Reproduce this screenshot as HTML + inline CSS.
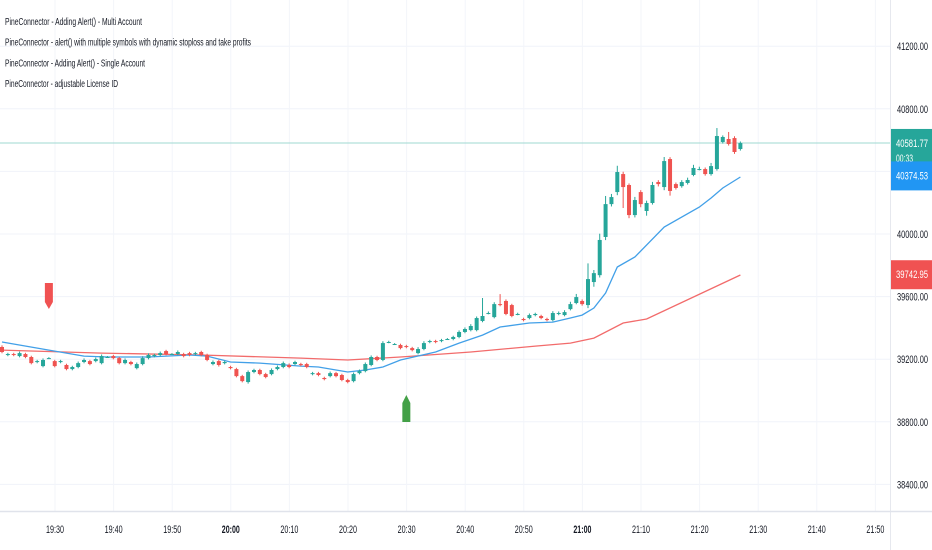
<!DOCTYPE html>
<html><head><meta charset="utf-8"><style>
html,body{margin:0;padding:0;background:#fff;}
svg{display:block;font-family:"Liberation Sans",sans-serif;}
</style></head><body>
<svg id="chart" width="932" height="550" viewBox="0 0 932 550" xmlns="http://www.w3.org/2000/svg">
<g id="grid"></g>
<g id="mas"></g>
<g id="candles"></g>
<g id="legend"></g>
<g id="axes"></g>
</svg>
<script>
const yTicks=[41200,40800,40400,40000,39600,39200,38800,38400];
const hiddenTickLabels=[40400];
const timeLabels=["19:30","19:40","19:50","20:00","20:10","20:20","20:30","20:40","20:50","21:00","21:10","21:20","21:30","21:40","21:50"];
const legendItems=["PineConnector - Adding Alert() - Multi Account","PineConnector - alert() with multiple symbols with dynamic stoploss and take profits","PineConnector - Adding Alert() - Single Account","PineConnector - adjustable License ID"];
const opens=[39278,39227,39233,39220,39233,39214,39182,39156,39207,39188,39182,39163,39137,39150,39182,39188,39188,39175,39214,39220,39207,39175,39182,39143,39169,39207,39220,39227,39252,39233,39233,39233,39239,39233,39246,39227,39169,39188,39175,39150,39137,39092,39054,39118,39131,39105,39105,39137,39150,39163,39169,39169,39169,39105,39111,39080,39092,39111,39099,39067,39060,39111,39124,39163,39214,39195,39310,39297,39291,39284,39271,39239,39265,39310,39316,39316,39329,39329,39342,39374,39386,39386,39444,39495,39469,39552,39572,39546,39489,39457,39463,39482,39476,39457,39450,39489,39482,39520,39559,39572,39546,39693,39737,39981,40191,40268,40383,40313,40121,40268,40147,40198,40332,40300,40479,40319,40306,40326,40377,40415,40415,40383,40415,40588,40607,40613,40543];
const closes=[39246,39233,39227,39239,39214,39175,39188,39195,39207,39156,39188,39137,39150,39175,39195,39169,39201,39220,39214,39207,39175,39195,39169,39169,39207,39227,39227,39239,39233,39233,39246,39220,39227,39239,39227,39195,39182,39163,39182,39143,39092,39060,39118,39131,39105,39086,39131,39150,39175,39150,39182,39163,39150,39111,39099,39073,39111,39092,39067,39054,39105,39124,39169,39214,39195,39303,39310,39297,39271,39278,39258,39265,39303,39316,39310,39322,39329,39342,39374,39393,39412,39463,39476,39495,39552,39546,39489,39476,39489,39450,39482,39489,39463,39450,39495,39495,39501,39552,39597,39552,39712,39750,39962,40191,40236,40396,40300,40121,40217,40191,40198,40313,40319,40466,40275,40294,40332,40345,40422,40415,40383,40434,40626,40620,40575,40524,40581];
const wickHi=[10,8,8,10,8,8,8,10,6,8,8,8,8,10,10,8,10,10,6,8,8,10,8,10,12,10,8,10,8,6,10,8,8,8,8,8,10,8,8,8,8,8,10,8,8,8,10,10,10,10,8,8,8,8,8,8,10,8,8,8,10,10,10,10,8,12,8,6,8,8,8,12,12,8,8,8,6,8,10,10,12,10,115,10,12,64,10,8,8,8,10,8,8,8,12,10,12,15,20,10,100,20,40,52,20,40,15,10,20,12,15,20,12,26,12,10,12,15,20,15,10,20,51,10,45,12,10];
const wickLo=[8,8,8,8,8,8,8,8,6,8,8,8,8,8,8,8,8,8,6,8,8,8,8,8,8,8,8,8,8,6,8,8,8,8,8,8,8,10,8,8,8,8,10,8,8,8,8,8,8,8,8,8,8,8,8,8,8,8,8,8,8,8,8,8,8,8,8,6,8,8,8,8,8,8,8,8,6,8,8,8,8,8,8,8,8,8,8,8,8,8,8,8,8,8,8,8,8,8,8,10,20,30,15,20,15,20,134,20,15,20,30,10,15,20,30,10,10,10,8,8,10,10,10,10,10,12,10];
const blueIdx=[0,8,14,18,25,32,35,39,44,51,54,59,62,65,68,74,78,82,85,90,94,97,99,101,103,105,108,113,119,121,123,126];
const blueVal=[39310,39258,39220,39214,39214,39227,39220,39182,39175,39156,39150,39118,39131,39150,39195,39246,39303,39354,39406,39431,39437,39463,39482,39527,39623,39789,39853,40045,40172,40230,40294,40364];
const redIdx=[0,17,34,51,59,68,80,91,97,101,106,110,126];
const redVal=[39258,39239,39227,39207,39195,39214,39246,39284,39303,39335,39431,39457,39738];
const lastPrice=40581.77, blueLast=40374.53, redLast=39742.95;
const sellSignalIdx=8, buySignalIdx=69;

const NS="http://www.w3.org/2000/svg";
const G="#26a69a",R="#ef5350";
function y(p){return 234-(p-40000)*62.6/400;}
function x(i){return 2+i*5.86;}
function tx(k){return 55+k*58.6;}
function mk(tag,attrs,parent){const e=document.createElementNS(NS,tag);for(const k in attrs)e.setAttribute(k,attrs[k]);parent.appendChild(e);return e;}
const grid=document.getElementById('grid'),cg=document.getElementById('candles'),mg=document.getElementById('mas'),lg=document.getElementById('legend'),ax=document.getElementById('axes');

yTicks.forEach(t=>{const l=mk('line',{x1:0,x2:890,y1:y(t),y2:y(t),stroke:'#f0f3fa','stroke-width':1},grid);

});
timeLabels.forEach((t,k)=>{const l=mk('line',{x1:tx(k),x2:tx(k),y1:0,y2:511,stroke:'#f3f5fa','stroke-width':1},grid);

});

const lp=mk('line',{x1:0,x2:890,y1:y(lastPrice),y2:y(lastPrice),stroke:'#9fd8d2','stroke-width':1},grid);



function path(idx,val,color,name){let d='';idx.forEach((i,k)=>{d+=(k?'L':'M')+x(i).toFixed(1)+' '+y(val[k]).toFixed(1);});
const p=mk('path',{d:d,fill:'none',stroke:color,'stroke-width':1.3},mg);

}
path(redIdx,redVal,'#f26b6b','ma-red-line');
path(blueIdx,blueVal,'#42a0e8','ma-blue-line');

opens.forEach((o,i)=>{const c=closes[i];const col=c>=o?G:R;const top=Math.max(o,c),bot=Math.min(o,c);
const w=mk('line',{x1:x(i),x2:x(i),y1:y(top+wickHi[i]),y2:y(bot-wickLo[i]),stroke:col,'stroke-width':1},cg);


const h=Math.max(1,y(bot)-y(top));
const b=mk('rect',{x:x(i)-2,y:y(top),width:4,height:h,fill:col},cg);

});

const sx=x(sellSignalIdx);
const s=mk('path',{d:`M${sx-4} 283H${sx+4}V302L${sx} 309L${sx-4} 302Z`,fill:'#f05252'},cg);


const bx=x(buySignalIdx);
const bb=mk('path',{d:`M${bx-4} 422H${bx+4}V403L${bx} 395L${bx-4} 403Z`,fill:'#43a047'},cg);



legendItems.forEach((t,k)=>{const lens=[137,246,140,113];
const e=mk('text',{x:5,y:25+k*20.7,'font-size':10,fill:'#131722',textLength:lens[k],lengthAdjust:'spacingAndGlyphs'},lg);e.textContent=t;

});

const al=mk('line',{x1:890.5,x2:890.5,y1:0,y2:550,stroke:'#e6e8ee'},ax);


const bl=mk('line',{x1:0,x2:932,y1:511.5,y2:511.5,stroke:'#e0e3eb','stroke-width':1.5},ax);


yTicks.forEach(t=>{if(hiddenTickLabels.includes(t))return;
const e=mk('text',{x:897,y:y(t)+4,'font-size':11,fill:'#131722',textLength:31,lengthAdjust:'spacingAndGlyphs'},ax);e.textContent=t.toFixed(2);

});
timeLabels.forEach((t,k)=>{const e=mk('text',{x:tx(k),y:533,'font-size':11,fill:'#131722','text-anchor':'middle',textLength:18,lengthAdjust:'spacingAndGlyphs','font-weight':t==='20:00'||t==='21:00'?'bold':'normal'},ax);e.textContent=t;

});

function badge(val,color,name,h,sub){const cy=y(val);const top=cy-14;
const r=mk('rect',{x:891,y:top,width:41,height:h,fill:color},ax);


const t=mk('text',{x:896,y:cy+4,'font-size':11,fill:'#fff',textLength:32,lengthAdjust:'spacingAndGlyphs'},ax);t.textContent=val.toFixed(2);


if(sub){const s2=mk('text',{x:896,y:cy+19,'font-size':11,fill:'#fff',textLength:17,lengthAdjust:'spacingAndGlyphs'},ax);s2.textContent=sub;

}}
badge(lastPrice,G,'last-price-badge',42,'00:33');
badge(blueLast,'#2196f3','blue-ma-badge',29);
badge(redLast,'#f05252','red-ma-badge',29);
</script>
</body></html>
